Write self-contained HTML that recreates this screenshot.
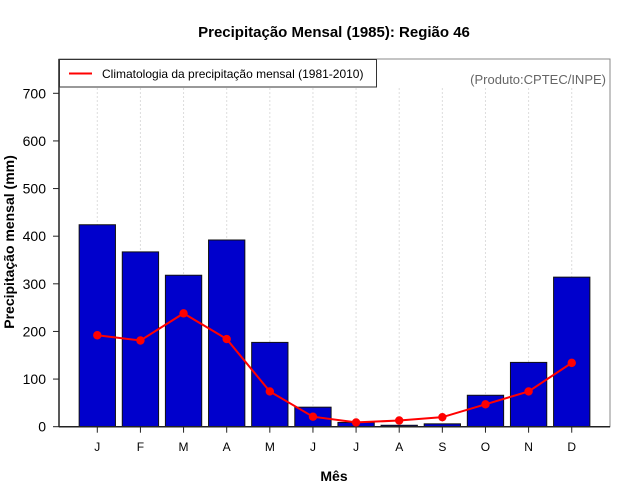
<!DOCTYPE html>
<html><head><meta charset="utf-8"><style>
body{margin:0;background:#fff}
svg{display:block;font-family:"Liberation Sans",sans-serif}
</style></head><body>
<svg id="c" width="640" height="500"></svg>
<script>
const months=["J","F","M","A","M","J","J","A","S","O","N","D"];
const precip=[424,367,318,392,177,41,9,3,6,66,135,314];
const climat=[192,181,238,184,74,21,9,13,20,47,74,134];
const yTicks=[0,100,200,300,400,500,600,700];
const NS="http://www.w3.org/2000/svg";
const svg=document.getElementById('c');
function mk(t,a,txt){const e=document.createElementNS(NS,t);for(const k in a)e.setAttribute(k,a[k]);if(txt!=null)e.textContent=txt;svg.appendChild(e);return e;}
const y0=426.7,pxPer=(426.7-93.3)/700;
const yS=v=>y0-v*pxPer;
const xS=i=>97.3+i*43.13;
const bw=36.3;
// frame
let e=mk('rect',{x:59,y:59,width:551,height:367.7,fill:'none',stroke:'#888','stroke-width':1});

// grid
months.forEach((m,i)=>{let g=mk('line',{x1:xS(i),x2:xS(i),y1:88,y2:y0,stroke:'#ddd','stroke-dasharray':'2,2'});
});
// bars
precip.forEach((v,i)=>{let b=mk('rect',{x:xS(i)-bw/2,y:yS(v),width:bw,height:y0-yS(v),fill:'#0000cc',stroke:'#111','stroke-width':1});
});
// axes
e=mk('line',{x1:59,x2:59,y1:59,y2:y0,stroke:'#222','stroke-width':1.5});
e=mk('line',{x1:59,x2:610,y1:y0,y2:y0,stroke:'#222','stroke-width':1.5});
yTicks.forEach(v=>{let t=mk('line',{x1:53,x2:59,y1:yS(v),y2:yS(v),stroke:'#222'});
let l=mk('text',{x:46,y:yS(v)+5,'text-anchor':'end','font-size':14,fill:'#000'},v);});
months.forEach((m,i)=>{let t=mk('line',{x1:xS(i),x2:xS(i),y1:y0,y2:y0+6,stroke:'#222'});
let l=mk('text',{x:xS(i),y:451,'text-anchor':'middle','font-size':12,fill:'#000'},m);});
// line
const pts=climat.map((v,i)=>xS(i)+','+yS(v)).join(' ');
e=mk('polyline',{points:pts,fill:'none',stroke:'#f00','stroke-width':2});
climat.forEach((v,i)=>{let p=mk('circle',{cx:xS(i),cy:yS(v),r:4.2,fill:'#f00'});});
// legend
e=mk('rect',{x:59.5,y:59.5,width:317,height:27.5,fill:'#fff',stroke:'#333'});
e=mk('line',{x1:69,x2:92,y1:73.5,y2:73.5,stroke:'#f00','stroke-width':2});
e=mk('text',{x:102,y:78,'font-size':12,fill:'#000'},'Climatologia da precipitação mensal (1981-2010)');
e=mk('text',{x:606,y:84,'text-anchor':'end','font-size':13,fill:'#666'},'(Produto:CPTEC/INPE)');
// titles
e=mk('text',{x:334,y:37,'text-anchor':'middle','font-size':15,'font-weight':'bold'},'Precipitação Mensal (1985): Região 46');
e=mk('text',{x:334,y:481,'text-anchor':'middle','font-size':14,'font-weight':'bold'},'Mês');
e=mk('text',{x:14,y:242,'text-anchor':'middle','font-size':14,'font-weight':'bold',transform:'rotate(-90 14 242)'},'Precipitação mensal (mm)');
</script>
</body></html>
